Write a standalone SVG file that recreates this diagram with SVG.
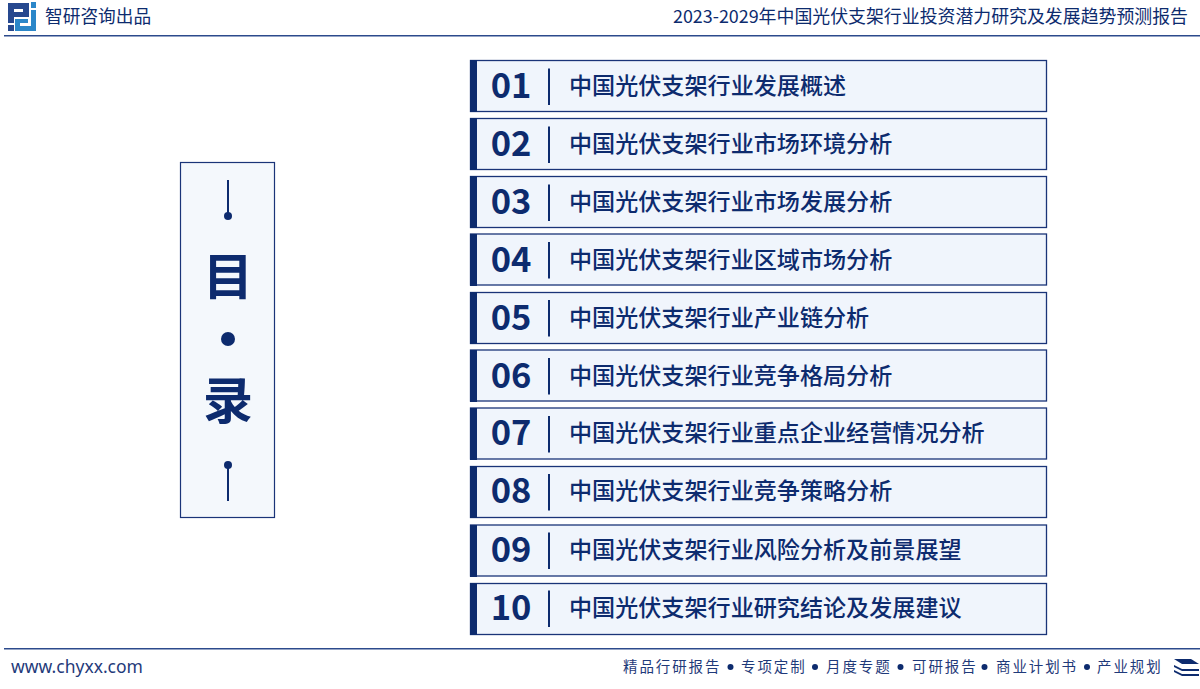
<svg xmlns="http://www.w3.org/2000/svg" width="1200" height="689" viewBox="0 0 1200 689">
<style>
text{font-family:"Noto Sans CJK SC","Noto Sans",sans-serif;fill:#0d2b6e}
.box{fill:#f0f5fc;stroke:#1a3478;stroke-width:1.3}
.bar{fill:#0d2b6e}
.sep{stroke:#0d2b6e;stroke-width:2}
.num{font-size:34.5px;font-weight:700;text-anchor:middle}
.lbl{font-size:23.1px;font-weight:500}
.ft{font-size:14.5px;fill:#1f3a7a;letter-spacing:1.9px}
.dot{fill:#0d2b6e}
</style>
<rect width="1200" height="689" fill="#fff"/>
<g id="header">
<path fill-rule="evenodd" d="M8 3H29V17H14V23H8ZM14 9V12H23V9Z" fill="#26488f"/>
<rect x="8" y="25" width="6" height="6" fill="#26488f"/>
<rect x="31" y="2" width="5" height="6" fill="#2b87c9"/>
<path d="M31 10H36V31H15V19H28V23H20V26H31Z" fill="#2b87c9"/>
<text x="45" y="23" style="font-size:17.7px">智研咨询出品</text>
<text x="1188" y="23" text-anchor="end" style="font-size:17.9px">2023-2029年中国光伏支架行业投资潜力研究及发展趋势预测报告</text>
<rect x="4" y="35" width="1196" height="1.5" fill="#2c4a8c"/>
</g>
<g id="title">
<rect x="180.500" y="162.500" width="94" height="355" fill="#f4f8fc" stroke="#1a3478" stroke-width="1.200"/>
<line x1="228" y1="180" x2="228" y2="216" stroke="#0d2b6e" stroke-width="2"/>
<circle cx="228" cy="216" r="4" fill="#0d2b6e"/>
<text x="228" y="295" text-anchor="middle" style="font-size:50px;font-weight:700">目</text>
<circle cx="228" cy="339" r="7" fill="#0d2b6e"/>
<text x="228" y="419" text-anchor="middle" style="font-size:50px;font-weight:700">录</text>
<circle cx="228" cy="465" r="4" fill="#0d2b6e"/>
<line x1="228" y1="465" x2="228" y2="501" stroke="#0d2b6e" stroke-width="2"/>
</g>
<g id="item01"><rect class="box" x="470.500" y="60.500" width="576" height="51"/><rect class="bar" x="470" y="60" width="7" height="52"/><text class="num" x="511" y="98">01</text><line class="sep" x1="549" y1="68.500" x2="549" y2="105"/><text class="lbl" x="569" y="94">中国光伏支架行业发展概述</text></g>
<g id="item02"><rect class="box" x="470.500" y="118.500" width="576" height="51"/><rect class="bar" x="470" y="118" width="7" height="52"/><text class="num" x="511" y="156">02</text><line class="sep" x1="549" y1="126.500" x2="549" y2="163"/><text class="lbl" x="569" y="152">中国光伏支架行业市场环境分析</text></g>
<g id="item03"><rect class="box" x="470.500" y="176.500" width="576" height="51"/><rect class="bar" x="470" y="176" width="7" height="52"/><text class="num" x="511" y="214">03</text><line class="sep" x1="549" y1="184.500" x2="549" y2="221"/><text class="lbl" x="569" y="210">中国光伏支架行业市场发展分析</text></g>
<g id="item04"><rect class="box" x="470.500" y="234" width="576" height="51"/><rect class="bar" x="470" y="234" width="7" height="52"/><text class="num" x="511" y="271.500">04</text><line class="sep" x1="549" y1="242" x2="549" y2="278.500"/><text class="lbl" x="569" y="267.500">中国光伏支架行业区域市场分析</text></g>
<g id="item05"><rect class="box" x="470.500" y="292.500" width="576" height="51"/><rect class="bar" x="470" y="292" width="7" height="52"/><text class="num" x="511" y="329.500">05</text><line class="sep" x1="549" y1="300" x2="549" y2="336.500"/><text class="lbl" x="569" y="325.500">中国光伏支架行业产业链分析</text></g>
<g id="item06"><rect class="box" x="470.500" y="350" width="576" height="51"/><rect class="bar" x="470" y="350" width="7" height="52"/><text class="num" x="511" y="387.500">06</text><line class="sep" x1="549" y1="358" x2="549" y2="394.500"/><text class="lbl" x="569" y="383.500">中国光伏支架行业竞争格局分析</text></g>
<g id="item07"><rect class="box" x="470.500" y="408" width="576" height="51"/><rect class="bar" x="470" y="408" width="7" height="52"/><text class="num" x="511" y="445">07</text><line class="sep" x1="549" y1="416" x2="549" y2="452.500"/><text class="lbl" x="569" y="441">中国光伏支架行业重点企业经营情况分析</text></g>
<g id="item08"><rect class="box" x="470.500" y="466.500" width="576" height="51"/><rect class="bar" x="470" y="466" width="7" height="52"/><text class="num" x="511" y="503">08</text><line class="sep" x1="549" y1="474" x2="549" y2="510.500"/><text class="lbl" x="569" y="499">中国光伏支架行业竞争策略分析</text></g>
<g id="item09"><rect class="box" x="470.500" y="525" width="576" height="51"/><rect class="bar" x="470" y="525" width="7" height="52"/><text class="num" x="511" y="561.500">09</text><line class="sep" x1="549" y1="532.500" x2="549" y2="569"/><text class="lbl" x="569" y="557.500">中国光伏支架行业风险分析及前景展望</text></g>
<g id="item10"><rect class="box" x="470.500" y="583.500" width="576" height="51"/><rect class="bar" x="470" y="583" width="7" height="52"/><text class="num" x="511" y="620">10</text><line class="sep" x1="549" y1="590.500" x2="549" y2="627"/><text class="lbl" x="569" y="616">中国光伏支架行业研究结论及发展建议</text></g>
<g id="footer">
<rect x="4" y="648" width="1196" height="1.500" fill="#2c4a8c"/>
<text x="11" y="673" style="font-size:17.5px;fill:#1f3a7a;font-family:'Noto Sans',sans-serif">www.chyxx.com</text>
<text x="623" y="672" class="ft">精品行研报告</text><circle class="dot" cx="730.500" cy="667" r="3"/>
<text x="741" y="672" class="ft">专项定制</text><circle class="dot" cx="815" cy="667" r="3"/>
<text x="826" y="672" class="ft">月度专题</text><circle class="dot" cx="900.500" cy="667" r="3"/>
<text x="912" y="672" class="ft">可研报告</text><circle class="dot" cx="984.500" cy="667" r="3"/>
<text x="996" y="672" class="ft">商业计划书</text><circle class="dot" cx="1087" cy="667" r="3"/>
<text x="1097" y="672" class="ft">产业规划</text>
<path d="M1174 659H1191L1199 664H1182Z" fill="#0d2b6e"/>
<path d="M1174 665L1182 669H1199V671H1182L1174 667Z" fill="#0d2b6e"/>
<path d="M1174 670L1182 674H1199V676H1182L1174 672Z" fill="#0d2b6e"/>
</g>
</svg>
